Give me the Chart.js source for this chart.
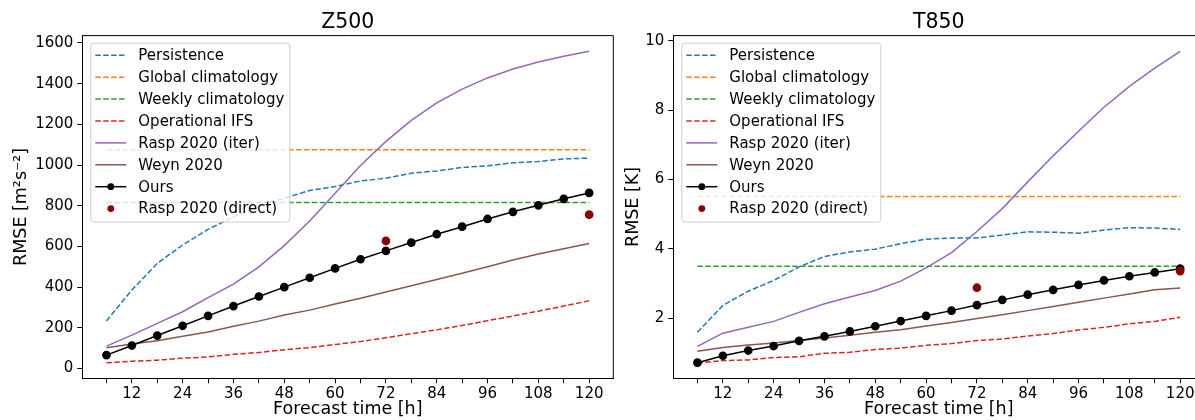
<!DOCTYPE html>
<html>
<head>
<meta charset="utf-8">
<script src="https://cdn.jsdelivr.net/npm/chart.js@4"></script>
<style>
  html, body { margin: 0; padding: 0; background: #fff; overflow: hidden; }
  body { width: 1195px; height: 420px; position: relative; }
  canvas { position: absolute; top: 0; }
  #z500 { left: 0; }
  #t850 { left: 600px; }
</style>
</head>
<body>
<canvas id="z500" width="625" height="420"></canvas>
<canvas id="t850" width="620" height="420"></canvas>
<script>
// forecast lead times [h]
const leadTimes = [6, 12, 18, 24, 30, 36, 42, 48, 54, 60, 66, 72, 78, 84, 90, 96, 102, 108, 114, 120];
const directTimes = [72, 120];

// Z500 RMSE [m2 s-2]
const z500Persistence = [234, 386, 517, 607, 684, 745, 800, 837, 875, 894, 922, 935, 960, 971, 988, 996, 1011, 1017, 1030, 1034];
const z500GlobalClim = 1075;
const z500WeeklyClim = 816;
const z500Ifs = [28, 36, 41, 51, 57, 70, 79, 92, 103, 118, 133, 151, 171, 190, 212, 235, 258, 282, 307, 333];
const z500RaspIter = [110, 164, 222, 279, 348, 415, 500, 604, 725, 861, 998, 1116, 1219, 1305, 1373, 1428, 1472, 1506, 1534, 1559];
const z500Weyn = [102, 120, 136, 159, 180, 208, 233, 263, 287, 317, 345, 376, 407, 438, 468, 500, 533, 563, 589, 614];
const z500Ours = [66, 113, 162, 210, 259, 307, 354, 400, 446, 492, 537, 578, 619, 660, 697, 735, 770, 802, 834, 863];
const z500RaspDirect = [627, 756];
const z500Ticks = [0, 200, 400, 600, 800, 1000, 1200, 1400, 1600];

// T850 RMSE [K]
const t850Persistence = [1.60, 2.37, 2.78, 3.09, 3.48, 3.78, 3.91, 3.99, 4.15, 4.28, 4.31, 4.31, 4.40, 4.49, 4.48, 4.45, 4.54, 4.61, 4.60, 4.56];
const t850GlobalClim = 5.51;
const t850WeeklyClim = 3.50;
const t850Ifs = [0.71, 0.78, 0.80, 0.87, 0.89, 0.99, 1.02, 1.10, 1.14, 1.22, 1.27, 1.36, 1.40, 1.49, 1.56, 1.66, 1.74, 1.84, 1.91, 2.03];
const t850RaspIter = [1.19, 1.57, 1.74, 1.91, 2.17, 2.42, 2.61, 2.80, 3.07, 3.45, 3.89, 4.50, 5.16, 5.93, 6.68, 7.39, 8.08, 8.68, 9.21, 9.69];
const t850Weyn = [1.05, 1.16, 1.23, 1.29, 1.36, 1.43, 1.51, 1.60, 1.67, 1.78, 1.88, 1.99, 2.10, 2.22, 2.34, 2.46, 2.58, 2.70, 2.82, 2.87];
const t850Ours = [0.72, 0.92, 1.07, 1.20, 1.35, 1.48, 1.62, 1.77, 1.92, 2.07, 2.22, 2.38, 2.53, 2.68, 2.82, 2.96, 3.09, 3.21, 3.32, 3.43];
const t850RaspDirect = [2.88, 3.36];
const t850Ticks = [2, 4, 6, 8, 10];

const FONT = 'DejaVu Sans';
const DASH = [5.5, 2.4];

const pts = (xs, ys) => xs.map((x, i) => ({ x: x, y: ys[i] }));
const flat = v => pts([leadTimes[0], leadTimes[leadTimes.length - 1]], [v, v]);

function buildDatasets(s) {
  const list = [
    { label: 'Persistence', data: pts(leadTimes, s.persistence), borderColor: '#1f77b4', borderDash: DASH },
    { label: 'Global climatology', data: flat(s.globalClim), borderColor: '#ff7f0e', borderDash: DASH },
    { label: 'Weekly climatology', data: flat(s.weeklyClim), borderColor: '#2ca02c', borderDash: DASH },
    { label: 'Operational IFS', data: pts(leadTimes, s.ifs), borderColor: '#d62728', borderDash: DASH },
    { label: 'Rasp 2020 (iter)', data: pts(leadTimes, s.raspIter), borderColor: '#9467bd' },
    { label: 'Weyn 2020', data: pts(leadTimes, s.weyn), borderColor: '#8c564b' },
    { label: 'Ours', data: pts(leadTimes, s.ours), borderColor: '#000', pointRadius: 3.6,
      pointBackgroundColor: '#000', pointBorderColor: '#000' },
    { label: 'Rasp 2020 (direct)', data: pts(directTimes, s.raspDirect), borderColor: '#8b0000', showLine: false,
      pointRadius: 3.6, pointBackgroundColor: '#8b0000', pointBorderColor: '#8b0000' }
  ];
  return list.map((d, i) => Object.assign({
    borderWidth: 1.5, pointRadius: 0, fill: false, tension: 0, order: list.length - i
  }, d));
}

// legend drawn inside the axes, matplotlib style
const innerLegend = {
  id: 'innerLegend',
  afterDatasetsDraw(chart) {
    const { ctx, chartArea } = chart;
    const bx = chartArea.left + 8, by = chartArea.top + 7, bw = 199, bh = 179;
    ctx.save();
    ctx.beginPath();
    ctx.roundRect(bx + 0.5, by + 0.5, bw, bh, 3);
    ctx.fillStyle = 'rgba(255,255,255,0.8)';
    ctx.fill();
    ctx.strokeStyle = '#cccccc';
    ctx.lineWidth = 1;
    ctx.stroke();
    ctx.font = '15px "' + FONT + '"';
    ctx.textBaseline = 'middle';
    chart.data.datasets.forEach((d, i) => {
      const y = by + 12.7 + i * 21.9;
      const x0 = bx + 5, x1 = bx + 36;
      if (d.showLine !== false) {
        ctx.beginPath();
        ctx.setLineDash(d.borderDash || []);
        ctx.strokeStyle = d.borderColor;
        ctx.lineWidth = 1.5;
        ctx.moveTo(x0, y);
        ctx.lineTo(x1, y);
        ctx.stroke();
        ctx.setLineDash([]);
      }
      if (d.pointRadius > 0) {
        ctx.beginPath();
        ctx.arc((x0 + x1) / 2, y, 3.4, 0, Math.PI * 2);
        ctx.fillStyle = d.pointBackgroundColor;
        ctx.fill();
      }
      ctx.fillStyle = '#000';
      ctx.fillText(d.label, bx + 48, y + 1);
    });
    ctx.restore();
  },
  afterDraw(chart) {
    const { ctx, chartArea } = chart;
    ctx.save();
    ctx.strokeStyle = '#000';
    ctx.lineWidth = 1;
    ctx.beginPath();
    ctx.moveTo(chartArea.left, chartArea.top);
    ctx.lineTo(chartArea.right, chartArea.top);
    ctx.lineTo(chartArea.right, chartArea.bottom);
    ctx.stroke();
    ctx.restore();
  }
};

function makeChart(id, cfg) {
  return new Chart(document.getElementById(id), {
    type: 'line',
    data: { datasets: buildDatasets(cfg.series) },
    options: {
      responsive: false,
      animation: false,
      devicePixelRatio: 1,
      layout: { padding: { left: cfg.padLeft, right: cfg.padRight, top: 0, bottom: 0 } },
      plugins: {
        legend: { display: false },
        tooltip: { enabled: false },
        title: {
          display: true, text: cfg.title, fullSize: false, color: '#000',
          font: { family: FONT, size: 20.5, weight: 'normal' },
          padding: { top: 10, bottom: 1 }
        }
      },
      scales: {
        x: {
          type: 'linear', min: 0.3, max: 125.7,
          afterBuildTicks: s => { s.ticks = leadTimes.map(v => ({ value: v })); },
          afterFit: s => { s.height = 41.7; },
          grid: { drawOnChartArea: false, drawTicks: true, tickLength: 5, color: '#000' },
          border: { color: '#000', width: 1 },
          ticks: {
            autoSkip: false, maxRotation: 0, padding: 2, color: '#000',
            font: { family: FONT, size: 15 },
            callback: v => (v % 12 === 0 ? String(v) : '')
          },
          title: {
            display: true, text: 'Forecast time [h]', color: '#000',
            font: { family: FONT, size: 17.5 }, padding: { top: 0, bottom: 0 }
          }
        },
        y: {
          min: cfg.yMin, max: cfg.yMax,
          afterBuildTicks: s => { s.ticks = cfg.yTicks.map(v => ({ value: v })); },
          afterFit: s => { s.width = cfg.yWidth; },
          grid: { drawOnChartArea: false, drawTicks: true, tickLength: 5, color: '#000' },
          border: { color: '#000', width: 1 },
          ticks: { padding: 4, color: '#000', font: { family: FONT, size: 15 }, callback: v => String(v) },
          title: {
            display: true, text: cfg.yLabel, color: '#000',
            font: { family: FONT, size: 17.5 }, padding: { top: 10.5, bottom: 0 }
          }
        }
      }
    },
    plugins: [innerLegend]
  });
}

makeChart('z500', {
  title: 'Z500', yLabel: 'RMSE [m²s⁻²]', yMin: -48, yMax: 1636, yTicks: z500Ticks,
  padLeft: 0, padRight: 11.7, yWidth: 82.3,
  series: { persistence: z500Persistence, globalClim: z500GlobalClim, weeklyClim: z500WeeklyClim, ifs: z500Ifs,
            raspIter: z500RaspIter, weyn: z500Weyn, ours: z500Ours, raspDirect: z500RaspDirect }
});

makeChart('t850', {
  title: 'T850', yLabel: 'RMSE [K]', yMin: 0.27, yMax: 10.145, yTicks: t850Ticks,
  padLeft: 12, padRight: 15.7, yWidth: 61.3,
  series: { persistence: t850Persistence, globalClim: t850GlobalClim, weeklyClim: t850WeeklyClim, ifs: t850Ifs,
            raspIter: t850RaspIter, weyn: t850Weyn, ours: t850Ours, raspDirect: t850RaspDirect }
});
</script>
</body>
</html>
